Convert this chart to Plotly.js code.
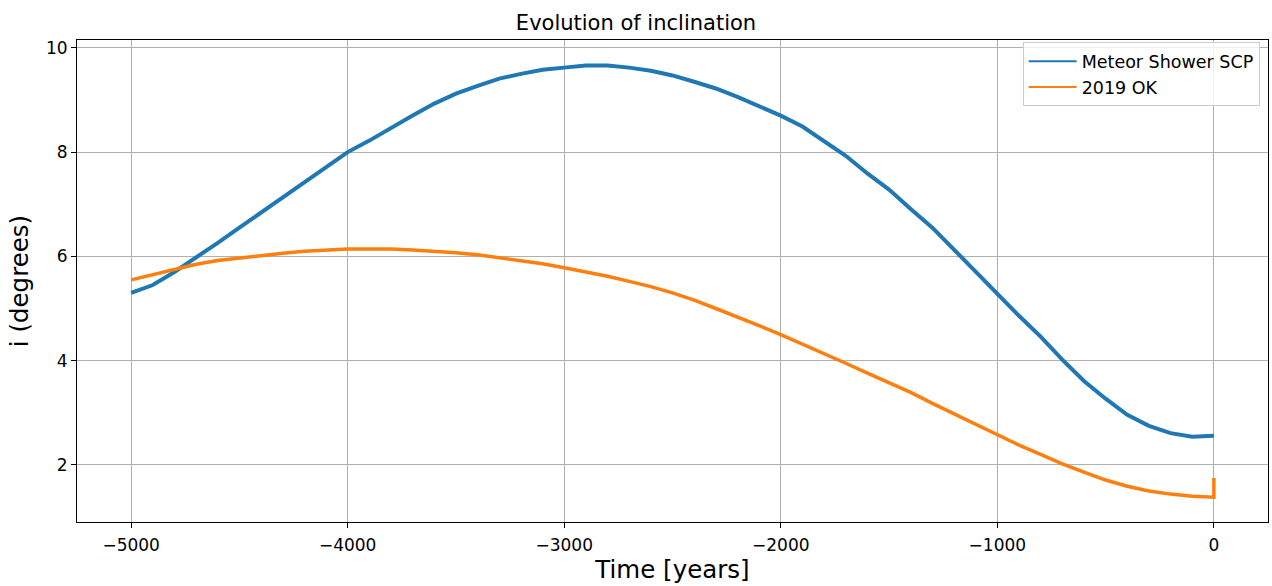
<!DOCTYPE html>
<html>
<head>
<meta charset="utf-8">
<script src="https://cdn.plot.ly/plotly-3.0.1.min.js"></script>
<style>html,body{margin:0;padding:0;background:#fff;}#chart{width:1272px;height:586px;}</style>
</head>
<body>
<div id="chart"></div>
<script>
const timeYears = [-5000,-4900,-4800,-4700,-4600,-4500,-4400,-4300,-4200,-4100,-4000,-3900,-3800,-3700,-3600,-3500,-3400,-3300,-3200,-3100,-3000,-2900,-2800,-2700,-2600,-2500,-2400,-2300,-2200,-2100,-2000,-1900,-1800,-1700,-1600,-1500,-1400,-1300,-1200,-1100,-1000,-900,-800,-700,-600,-500,-400,-300,-200,-100,0];
const meteorShowerSCP = [5.30,5.45,5.70,5.97,6.26,6.55,6.84,7.12,7.41,7.70,8.00,8.22,8.47,8.70,8.93,9.12,9.27,9.41,9.50,9.58,9.62,9.66,9.66,9.62,9.56,9.47,9.35,9.22,9.06,8.89,8.70,8.49,8.22,7.93,7.59,7.28,6.91,6.55,6.13,5.70,5.28,4.86,4.46,4.02,3.61,3.27,2.96,2.75,2.61,2.54,2.56];
const timeYears2019OK = [-5000,-4900,-4800,-4700,-4600,-4500,-4400,-4300,-4200,-4100,-4000,-3900,-3800,-3700,-3600,-3500,-3400,-3300,-3200,-3100,-3000,-2900,-2800,-2700,-2600,-2500,-2400,-2300,-2200,-2100,-2000,-1900,-1800,-1700,-1600,-1500,-1400,-1300,-1200,-1100,-1000,-900,-800,-700,-600,-500,-400,-300,-200,-100,0,0];
const ok2019 = [5.55,5.65,5.76,5.85,5.92,5.97,6.01,6.06,6.10,6.12,6.14,6.14,6.14,6.12,6.10,6.07,6.03,5.97,5.92,5.86,5.78,5.70,5.62,5.52,5.42,5.30,5.16,5.00,4.84,4.67,4.50,4.32,4.13,3.95,3.76,3.58,3.39,3.18,2.98,2.78,2.58,2.38,2.20,2.02,1.86,1.71,1.59,1.50,1.44,1.40,1.38,1.75];
const seriesNames = ['Meteor Shower SCP','2019 OK'];
const seriesColors = ['#1f77b4','#ff7f0e'];
const xTickVals = [-5000,-4000,-3000,-2000,-1000,0];
const xTickText = ['\u22125000','\u22124000','\u22123000','\u22122000','\u22121000','0'];
const yTickVals = [2,4,6,8,10];

const font = 'DejaVu Sans, sans-serif';
const traces = [
  {x: timeYears, y: meteorShowerSCP, type:'scatter', mode:'lines', name:seriesNames[0], showlegend:false,
   line:{color:seriesColors[0], width:4}},
  {x: timeYears2019OK, y: ok2019, type:'scatter', mode:'lines', name:seriesNames[1], showlegend:false,
   line:{color:seriesColors[1], width:3.5}},
  {x:[null], y:[null], type:'scatter', mode:'lines', name:seriesNames[0], line:{color:seriesColors[0], width:2}},
  {x:[null], y:[null], type:'scatter', mode:'lines', name:seriesNames[1], line:{color:seriesColors[1], width:2}}
];
const layout = {
  width:1272, height:586,
  margin:{l:77, r:4, t:40, b:64},
  paper_bgcolor:'#fff', plot_bgcolor:'#fff',
  font:{family:font, color:'#000', size:17},
  title:{text:'Evolution of inclination', font:{family:font, size:21, color:'#000'}, x:0.5, xanchor:'center', y:0.962, yanchor:'middle'},
  xaxis:{range:[-5250,250], tickvals:xTickVals, ticktext:xTickText, ticks:'outside', ticklen:5, tickcolor:'#000',
    ticklabelstandoff:3,
    showgrid:true, gridcolor:'#b0b0b0', gridwidth:1, zeroline:false, showline:true, linecolor:'#000', linewidth:1, mirror:true,
    tickfont:{size:17}, title:{text:'Time [years]', font:{size:24.5}, standoff:6}},
  yaxis:{range:[0.905,10.15], tickvals:yTickVals, ticks:'outside', ticklen:5, tickcolor:'#000',
    showgrid:true, gridcolor:'#b0b0b0', gridwidth:1, zeroline:false, showline:true, linecolor:'#000', linewidth:1, mirror:true,
    tickfont:{size:17}, title:{text:'i (degrees)', font:{size:24.5}, standoff:10}},
  legend:{x:0.993, y:0.995, xanchor:'right', yanchor:'top', bgcolor:'rgba(255,255,255,0.8)', bordercolor:'#cccccc', borderwidth:1,
    font:{size:17.5}, itemwidth:48, tracegroupgap:0},
  showlegend:true
};
Plotly.newPlot('chart', traces, layout, {displayModeBar:false, staticPlot:true});
</script>
</body>
</html>
